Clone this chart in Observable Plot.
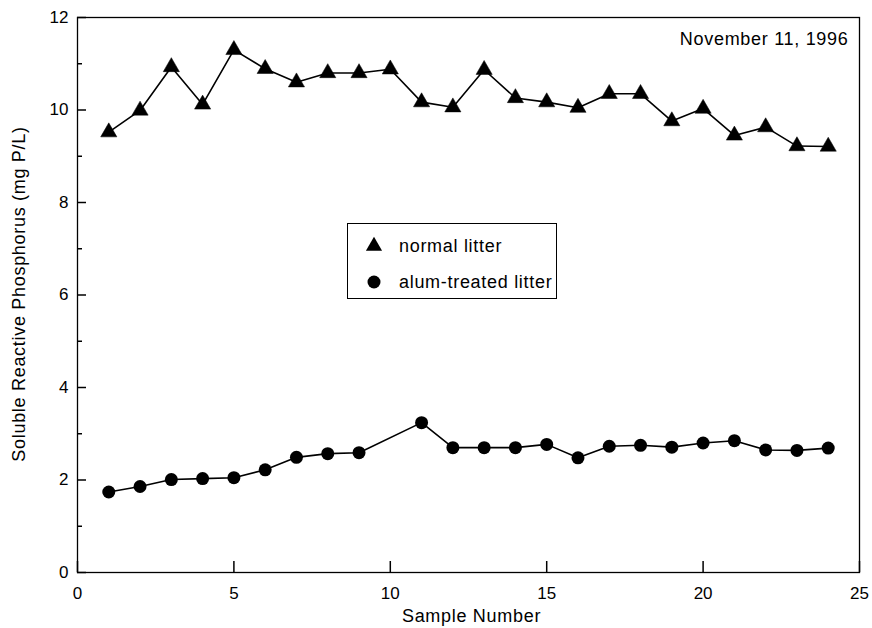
<!DOCTYPE html>
<html>
<head>
<meta charset="utf-8">
<script src="https://cdn.jsdelivr.net/npm/d3@7"></script>
<script src="https://cdn.jsdelivr.net/npm/@observablehq/plot@0.6"></script>
<style>
  html, body { margin: 0; padding: 0; background: white; }
  #wrap { position: relative; width: 872px; height: 628px; font-family: "Liberation Sans", Arial, sans-serif; }
  #legend { position: absolute; left: 347px; top: 223px; width: 208px; height: 74px; border: 1.2px solid black; background: white; font-size: 18px; letter-spacing: 0.7px; color: black; }
  #legend .row { position: absolute; left: 0; height: 20px; display: flex; align-items: center; }
  #legend svg { position: absolute; left: 16px; }
  #legend span { position: absolute; left: 51px; white-space: nowrap; }
</style>
</head>
<body>
<div id="wrap"></div>
<script>
// ---- data ----
const normalSamples = [1, 2, 3, 4, 5, 6, 7, 8, 9, 10, 11, 12, 13, 14, 15, 16, 17, 18, 19, 20, 21, 22, 23, 24];
const normalValues  = [9.52, 9.99, 10.93, 10.12, 11.30, 10.89, 10.60, 10.80, 10.80, 10.88, 10.17, 10.06,
                       10.87, 10.26, 10.17, 10.05, 10.35, 10.35, 9.76, 10.03, 9.45, 9.63, 9.22, 9.21];
const alumSamples = [1, 2, 3, 4, 5, 6, 7, 8, 9, 11, 12, 13, 14, 15, 16, 17, 18, 19, 20, 21, 22, 23, 24];
const alumValues  = [1.74, 1.86, 2.01, 2.03, 2.05, 2.22, 2.49, 2.57, 2.59, 3.24, 2.70, 2.70,
                     2.70, 2.77, 2.48, 2.73, 2.75, 2.71, 2.80, 2.85, 2.65, 2.64, 2.69];
const xTicks = [0, 5, 10, 15, 20, 25];
const yTicks = [0, 2, 4, 6, 8, 10, 12];
const yMinorTicks = [1, 3, 5, 7, 9, 11];
const seriesNames = ["normal litter", "alum-treated litter"];
const xLabel = "Sample Number";
const yLabel = "Soluble Reactive Phosphorus (mg P/L)";
const dateLabel = "November 11, 1996";

const normal = normalSamples.map((s, i) => ({sample: s, value: normalValues[i]}));
const alum = alumSamples.map((s, i) => ({sample: s, value: alumValues[i]}));

// layout
const W = 872, H = 628, ML = 77, MR = 13, MT = 17, MB = 56;
const plotW = W - ML - MR, plotH = H - MT - MB;

const chart = Plot.plot({
  width: W,
  height: H,
  marginLeft: ML,
  marginRight: MR,
  marginTop: MT,
  marginBottom: MB,
  style: {fontFamily: "'Liberation Sans', Arial, sans-serif", fontSize: "17px", color: "black", background: "white"},
  x: {domain: [0, 25]},
  y: {domain: [0, 12]},
  marks: [
    Plot.axisX({ticks: xTicks, tickSize: 0, tickPadding: 14, label: null, fontSize: 17}),
    Plot.axisY({ticks: yTicks, tickSize: 0, tickPadding: 9, label: null, fontSize: 17}),
    // inward ticks
    Plot.ruleX(xTicks, {x: d => d, insetTop: plotH - 11, stroke: "black", strokeWidth: 1.5}),
    Plot.ruleY(yTicks, {y: d => d, insetRight: plotW - 9, stroke: "black", strokeWidth: 1.5}),
    Plot.ruleY(yMinorTicks, {y: d => d, insetRight: plotW - 5, stroke: "black", strokeWidth: 1.5}),
    Plot.frame({stroke: "black", strokeWidth: 1.3}),
    Plot.line(normal, {x: "sample", y: "value", stroke: "black", strokeWidth: 1.6}),
    Plot.dot(normal, {x: "sample", y: "value", symbol: "triangle", r: 6, fill: "black", stroke: "black", strokeWidth: 0.5}),
    Plot.line(alum, {x: "sample", y: "value", stroke: "black", strokeWidth: 1.6}),
    Plot.dot(alum, {x: "sample", y: "value", symbol: "circle", r: 6.5, fill: "black"}),
    Plot.text([xLabel], {text: d => d, frameAnchor: "bottom", textAnchor: "middle", lineAnchor: "bottom", dy: 49, dx: 3, fontSize: 18, fill: "black"}),
    Plot.text([yLabel], {text: d => d, frameAnchor: "left", rotate: -90, textAnchor: "middle", lineAnchor: "middle", dx: -58, dy: -1, fontSize: 18, fill: "black"}),
    Plot.text([dateLabel], {text: d => d, frameAnchor: "top-right", textAnchor: "end", lineAnchor: "top", dx: -11, dy: 15, fontSize: 18, fill: "black"})
  ]
});

// letter spacing for the wide scanned Helvetica labels
d3.select(chart).selectAll("text")
  .filter(function() { return [xLabel, yLabel, dateLabel].includes(this.textContent); })
  .attr("letter-spacing", "0.7px");

const wrap = document.getElementById("wrap");
wrap.appendChild(chart);

// legend (boxed, inside the plot area)
const legend = document.createElement("div");
legend.id = "legend";
const tri = d3.symbol(d3.symbolTriangle, Math.PI * 36)();
const circ = d3.symbol(d3.symbolCircle, Math.PI * 6.5 * 6.5)();
const rows = [
  {name: seriesNames[0], path: tri, top: 12},
  {name: seriesNames[1], path: circ, top: 48}
];
rows.forEach(r => {
  const row = document.createElement("div");
  row.className = "row";
  row.style.top = r.top + "px";
  row.style.width = "100%";
  row.innerHTML = `<svg width="20" height="20" viewBox="-10 -10 20 20"><path d="${r.path}" fill="black"/></svg><span>${r.name}</span>`;
  legend.appendChild(row);
});
wrap.appendChild(legend);
</script>
</body>
</html>
